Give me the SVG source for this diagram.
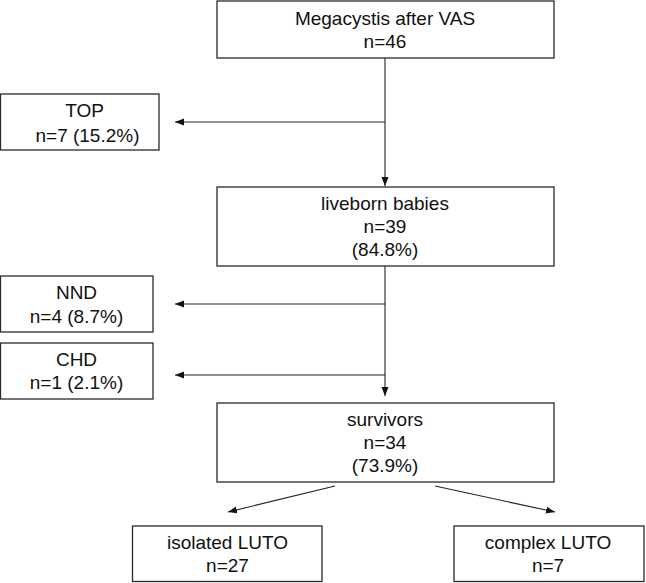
<svg xmlns="http://www.w3.org/2000/svg" width="646" height="583" viewBox="0 0 646 583">
<style>
.box{fill:#fff;stroke:#2a2a2a;stroke-width:1.3}
.t{font-family:"Liberation Sans",Arial,sans-serif;font-size:19px;fill:#111;text-anchor:middle}
.c{stroke:#222;stroke-width:1.1;fill:none;marker-end:url(#ah)}
</style>
<defs>
<marker id="ah" markerUnits="userSpaceOnUse" markerWidth="10" markerHeight="8" refX="9" refY="3.5" orient="auto">
<path d="M0,0 L9,3.5 L0,7 z" fill="#111"/>
</marker>
</defs>
<rect width="646" height="583" fill="#fff"/>
<g id="connectors">
<line class="c" x1="385" y1="58" x2="385" y2="186"/>
<line class="c" x1="385" y1="122" x2="175" y2="122"/>
<line class="c" x1="385" y1="266" x2="385" y2="396"/>
<line class="c" x1="385" y1="304" x2="175" y2="304"/>
<line class="c" x1="385" y1="375" x2="175" y2="375"/>
<line class="c" x1="335" y1="486" x2="228" y2="512"/>
<line class="c" x1="435" y1="486" x2="555" y2="512"/>
</g>
<g id="megacystis">
<rect class="box" x="217" y="1" width="337" height="57"/>
<text class="t" x="385" y="25">Megacystis after VAS</text>
<text class="t" x="385" y="48">n=46</text>
</g>
<g id="top">
<rect class="box" x="0.5" y="94" width="158.5" height="56"/>
<text class="t" x="84.5" y="117">TOP</text>
<text class="t" x="87.5" y="142">n=7 (15.2%)</text>
</g>
<g id="liveborn">
<rect class="box" x="217" y="187" width="337" height="79"/>
<text class="t" x="385" y="210">liveborn babies</text>
<text class="t" x="385" y="233">n=39</text>
<text class="t" x="385" y="256">(84.8%)</text>
</g>
<g id="nnd">
<rect class="box" x="0.5" y="276" width="152.5" height="56"/>
<text class="t" x="76.5" y="299">NND</text>
<text class="t" x="76.5" y="323">n=4 (8.7%)</text>
</g>
<g id="chd">
<rect class="box" x="0.5" y="343" width="152.5" height="56"/>
<text class="t" x="76.5" y="366">CHD</text>
<text class="t" x="76.5" y="389">n=1 (2.1%)</text>
</g>
<g id="survivors">
<rect class="box" x="217" y="403" width="337" height="79"/>
<text class="t" x="385" y="426">survivors</text>
<text class="t" x="385" y="449">n=34</text>
<text class="t" x="385" y="472">(73.9%)</text>
</g>
<g id="isolated">
<rect class="box" x="132.5" y="526" width="189.5" height="55.5"/>
<text class="t" x="227.5" y="549">isolated LUTO</text>
<text class="t" x="227.5" y="572">n=27</text>
</g>
<g id="complex">
<rect class="box" x="454" y="526" width="190" height="55.5"/>
<text class="t" x="548" y="549">complex LUTO</text>
<text class="t" x="548" y="572">n=7</text>
</g>
</svg>
